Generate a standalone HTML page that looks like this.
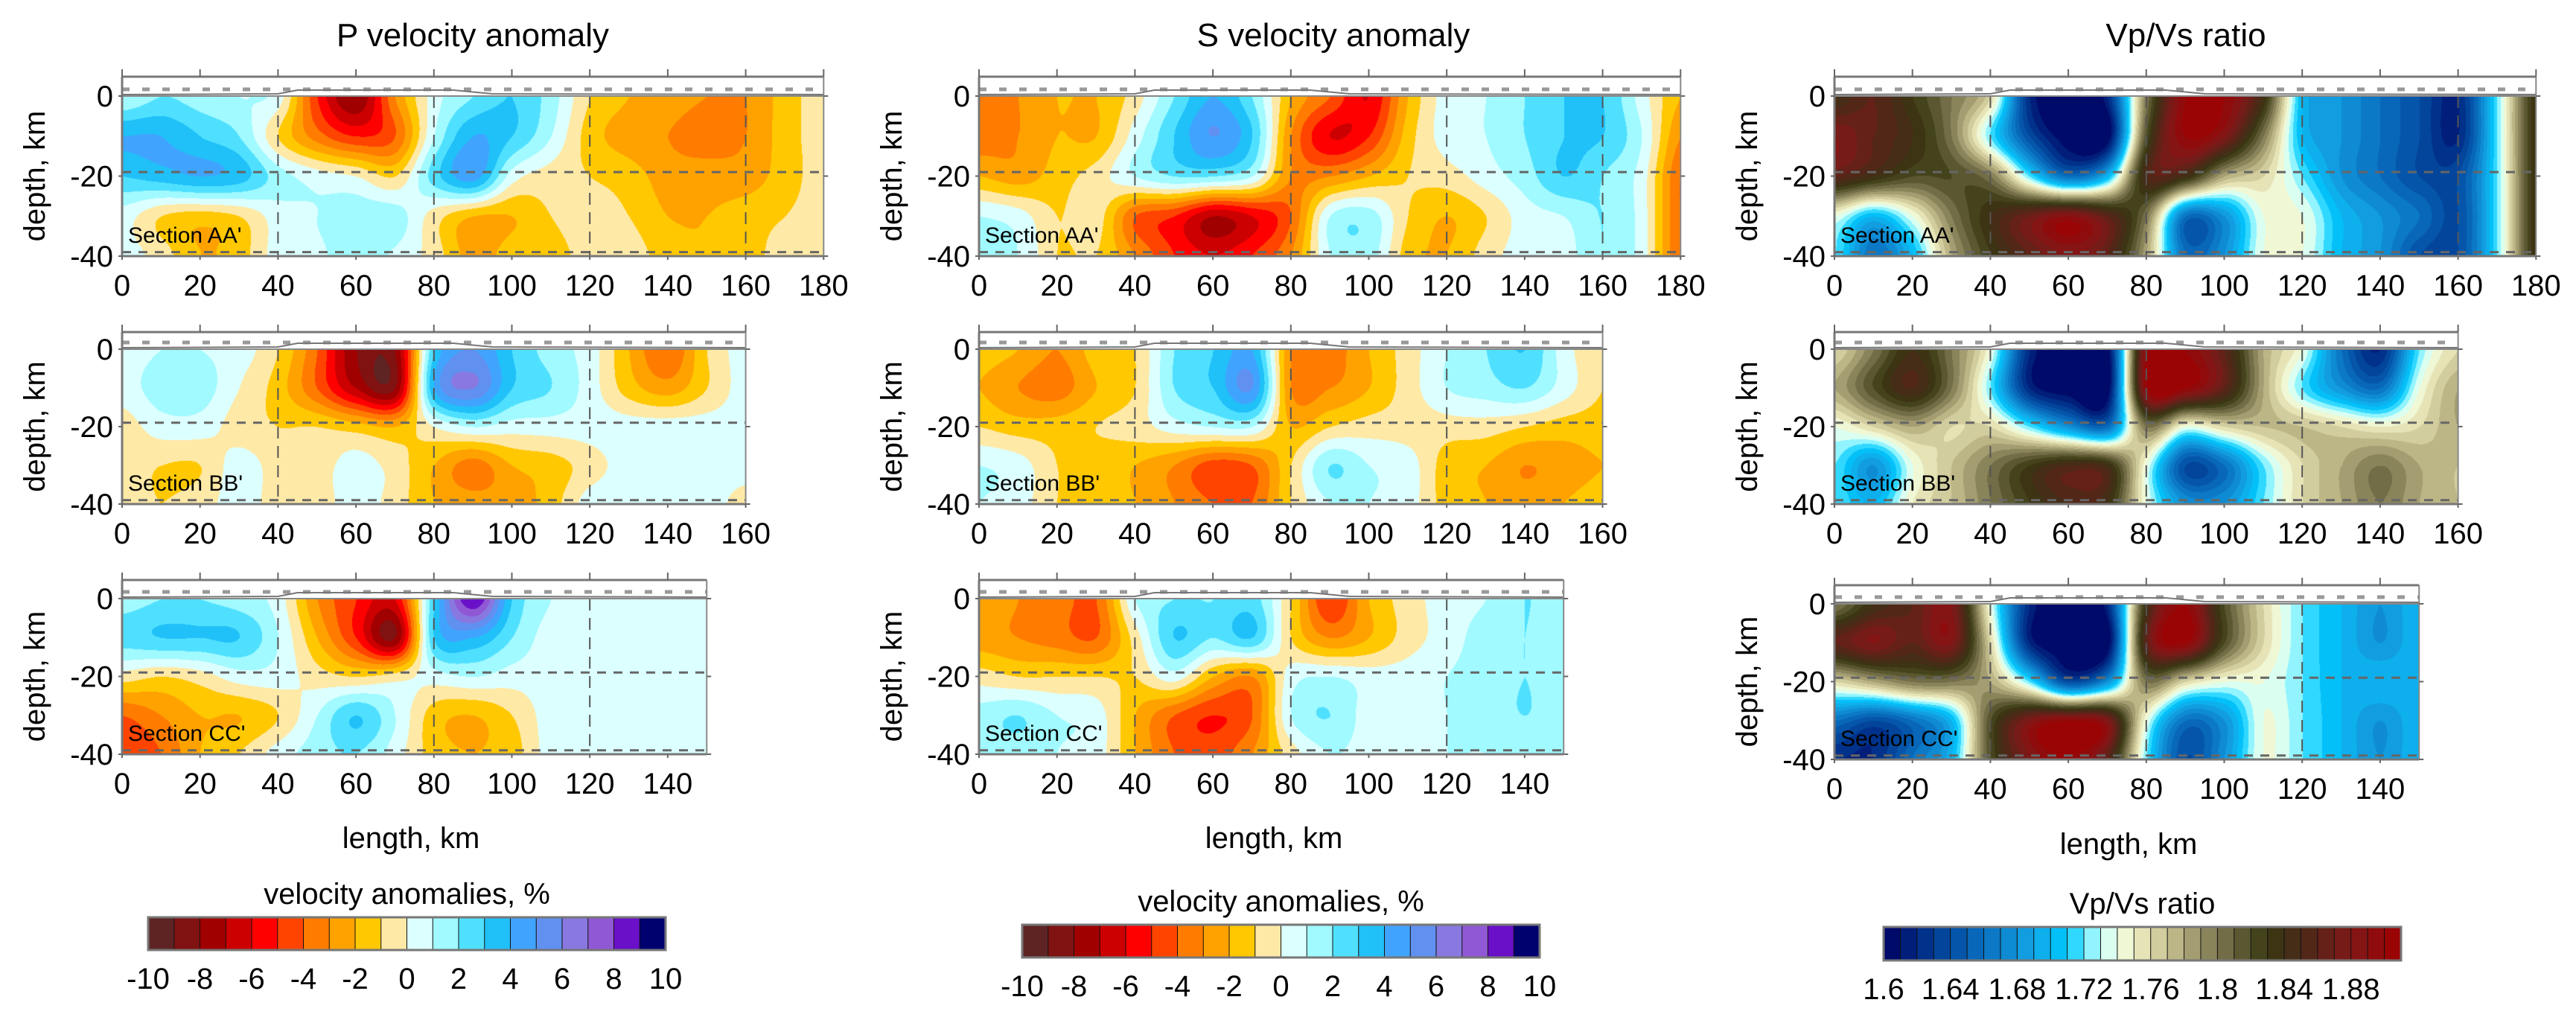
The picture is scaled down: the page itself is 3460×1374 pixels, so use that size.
<!DOCTYPE html>
<html><head><meta charset="utf-8"><style>
html,body{margin:0;padding:0;background:#fff;}
#wrap{position:relative;width:3460px;height:1374px;overflow:hidden;}
canvas,svg{position:absolute;left:0;top:0;}
text{font-family:"Liberation Sans",sans-serif;fill:#000;}
</style></head><body>
<div id="wrap">
<canvas id="cv" width="3460" height="1374"></canvas>
<svg id="sv" width="3460" height="1374" xmlns="http://www.w3.org/2000/svg"></svg>
</div>
<script>
// ---------- data ----------
const depthRows = [0, 10, 20, 30, 40];
const xTicksAA = [0,20,40,60,80,100,120,140,160,180];
const xTicksBB = [0,20,40,60,80,100,120,140,160];
const xTicksCC = [0,20,40,60,80,100,120,140];
const yTicks = [0,-20,-40];
const velTickLabels = [-10,-8,-6,-4,-2,0,2,4,6,8,10];
const vpvsTickLabels = [1.6,1.64,1.68,1.72,1.76,1.8,1.84,1.88];
const velColors = ["#5e2424","#801212","#a00000","#cc0000","#ff0000","#ff4400","#ff7c00","#ffa200","#ffc800","#ffe9a6",
                   "#dcffff","#a0faff","#50e0ff","#20c0f8","#40a4ff","#6090f0","#8878e0","#9058d4","#6a10c8","#00006e"];
const vpvsStops = [[1.60,"#000060"],[1.63,"#003c94"],[1.66,"#0a70c0"],[1.69,"#12a6e6"],[1.71,"#00c8ff"],[1.72,"#60e8ff"],
                   [1.73,"#c4ffff"],[1.74,"#f0ffe4"],[1.75,"#f0f0c4"],[1.77,"#c8c292"],[1.80,"#7e7850"],[1.83,"#383812"],
                   [1.85,"#4a2a18"],[1.88,"#801818"],[1.91,"#a00000"]];

const pAA = [
 [1,2,1.5,1,0.5,-5,-8,-3,0.5,2,3,1.5,-1,-2,-2.5,-3,-3,-1.5,-0.5],
 [4,4,3,2,-1,-3.5,-5,-4,1,4,3,1,-1.5,-2.5,-3,-3.5,-3,-1.5,-0.5],
 [3,3.5,4,3.5,1.5,0.5,0,-1,2.5,4.5,0.5,-0.5,-1,-1.5,-2.5,-2.5,-2.5,-1.5,-0.5],
 [0.5,-1,-1.5,-1,0.5,1,1.5,1.5,-0.5,-2,-2,-1,-0.5,-1,-2,-2,-1.5,-1,-0.5],
 [0.5,-0.5,-2,-1.5,0.5,0.8,1.5,0.8,-0.5,-2.5,-1.5,-1.5,-0.5,-0.5,-1.5,-2,-1.5,-0.5,-0.5]];
const pBB = [
 [0.5,1,1,0.5,-1,-4,-8,-8,3,5,3,1.5,0.5,-2,-4,-1,0.5],
 [0.5,1.5,1.5,0,-1.5,-4,-7,-8,4,6,3,2,0.5,-1.5,-2.5,-1,0.5],
 [-0.5,0.5,0.5,-0.5,-1,-1,-1.5,-2,0,1,0.5,0.5,0.5,0.5,0.5,0.5,0.5],
 [-0.5,-1,-1,0.5,-0.5,-0.5,0.5,-0.5,-2,-3.5,-2,-1.5,-0.5,0.5,0.5,0.5,0.5],
 [-0.5,-1,-0.5,0.5,-0.5,-0.5,0.5,-0.5,-2,-2.5,-2.5,-1.5,0.5,0.5,0.5,0.5,-0.5]];
const pCC = [
 [1.5,2,2,1.5,0.5,-3,-5,-6,3,9,3,1,0.5,0.5,0.5,0.5],
 [2.5,3,3,3,1,-2,-5,-8,3,4,2,0.5,0.5,0.5,0.5,0.5],
 [-0.5,-1,-0.5,0.5,0.5,-0.5,-1,-0.5,0.5,1,0.5,0.5,0.5,0.5,0.5,0.5],
 [-4,-3,-2,-2,-1,1,3,1,-1.5,-2,-1,0.5,0.5,0.5,0.5,0.5],
 [-5,-4,-2,-1,0.5,1.5,2,0.5,-1.5,-2,-1.5,0.5,0.5,0.5,0.5,0.5]];
const sAA = [
 [-3,-3,-2,-2,-0.5,2,4,2,-2,-4,-6,-2,0.5,1,2,3,3,0.5,-2],
 [-3.5,-3,-2,-2,0.5,3,5,3,-3,-6,-5,-1.5,0.5,1,2,3,3,1,-3],
 [-2,-2.5,-1.5,-0.5,1,2,2,1,-3,-3,-2,-1,-0.5,0.5,1.5,3,2,0.5,-4],
 [1,0.5,-1,-0.5,-4,-5,-7,-6,-4,1,1.5,-1,-2,-1,0.5,1,2,0.5,-4],
 [1,1,-1,-1,-3,-5,-6,-5,-3,1,1.5,-1.5,-2,-0.5,0.5,0.5,2,0.5,-4]];
const sBB = [
 [-1.5,-2,-3,-1.5,-1,2,3,4,-3,-3.5,-2,-0.5,1,2,3,0.5,-1],
 [-2,-3,-3.5,-2,-1,2,3,5,-3,-3,-2,-0.5,1,1.5,2,0.5,-1],
 [-1,-1.5,-1.5,-1,-0.5,0.5,1,1,-2,-1,-0.5,-0.5,-0.5,-0.5,-1,-1.5,-1.5],
 [1,0.5,-1,-1.5,-2,-3,-4.5,-4,-1,2,1,0.5,-1.5,-2,-3,-2.5,-2],
 [1,0.5,-1,-1.5,-2,-3,-4,-4,-1,1,1,0.5,-1.5,-2,-2.5,-2,-1.5]];
const sCC = [
 [-2,-3,-3.5,-4,1,2,2,2.5,-1,-5,-2,-0.5,0.5,1,2,1.5],
 [-2.5,-3,-3.5,-4,-0.5,3,2,3,-1,-3,-2,-0.5,0.5,1.5,2,1.5],
 [-0.5,-1,-1,-1,-1,0.5,-2,-3,0.5,1,0.5,0.5,1,1.5,2,1.5],
 [1.5,2,1,0.5,-2,-4,-5,-4,1,2,0.5,0.5,1,1.5,2,1.5],
 [1.5,1.5,1,0.5,-2,-4,-4.5,-3,-0.5,1,0.5,0.5,1,1,1.5,1.5]];
const vAA = [
 [1.84,1.86,1.83,1.80,1.76,1.62,1.60,1.62,1.80,1.90,1.90,1.84,1.70,1.68,1.66,1.64,1.62,1.72,1.84],
 [1.88,1.86,1.84,1.80,1.72,1.64,1.60,1.60,1.82,1.90,1.88,1.80,1.70,1.68,1.66,1.64,1.62,1.72,1.84],
 [1.86,1.84,1.82,1.82,1.80,1.72,1.66,1.70,1.85,1.84,1.78,1.76,1.72,1.68,1.66,1.64,1.64,1.72,1.84],
 [1.74,1.70,1.74,1.80,1.84,1.87,1.89,1.86,1.80,1.66,1.68,1.74,1.74,1.70,1.68,1.66,1.64,1.72,1.84],
 [1.72,1.66,1.70,1.78,1.83,1.86,1.88,1.86,1.78,1.66,1.68,1.74,1.74,1.70,1.68,1.64,1.64,1.72,1.84]];
const vBB = [
 [1.76,1.80,1.84,1.80,1.74,1.62,1.60,1.60,1.90,1.90,1.86,1.78,1.74,1.66,1.62,1.72,1.76],
 [1.78,1.82,1.85,1.80,1.72,1.62,1.60,1.60,1.90,1.90,1.86,1.78,1.72,1.68,1.66,1.74,1.78],
 [1.74,1.76,1.78,1.76,1.76,1.72,1.68,1.66,1.80,1.74,1.76,1.77,1.77,1.76,1.75,1.76,1.78],
 [1.72,1.68,1.74,1.77,1.80,1.83,1.85,1.84,1.74,1.64,1.66,1.72,1.76,1.78,1.80,1.78,1.77],
 [1.72,1.70,1.75,1.77,1.80,1.83,1.85,1.84,1.74,1.68,1.68,1.72,1.76,1.78,1.80,1.78,1.77]];
const vCC = [
 [1.80,1.84,1.86,1.88,1.74,1.62,1.60,1.62,1.84,1.90,1.82,1.76,1.72,1.70,1.68,1.70],
 [1.86,1.88,1.86,1.88,1.76,1.62,1.60,1.60,1.86,1.90,1.82,1.76,1.72,1.70,1.68,1.70],
 [1.76,1.78,1.80,1.80,1.78,1.72,1.64,1.68,1.80,1.76,1.74,1.74,1.72,1.70,1.70,1.70],
 [1.66,1.64,1.66,1.70,1.82,1.88,1.90,1.88,1.74,1.66,1.68,1.74,1.72,1.70,1.68,1.70],
 [1.62,1.62,1.66,1.70,1.82,1.88,1.90,1.86,1.72,1.64,1.68,1.74,1.72,1.70,1.68,1.70]];

// ---------- layout ----------
const colX = [164, 1315, 2464];
const pxPerKm = 5.235;
const rowsGeom = [
  {y0:129, y40:344, top:103}, {y0:469, y40:677, top:446}, {y0:804, y40:1013, top:779}];
const panels = [
 {c:0,r:0,data:pAA,len:180,ticks:xTicksAA,type:'v',sec:"Section AA'"},
 {c:0,r:1,data:pBB,len:160,ticks:xTicksBB,type:'v',sec:"Section BB'"},
 {c:0,r:2,data:pCC,len:150,ticks:xTicksCC,type:'v',sec:"Section CC'"},
 {c:1,r:0,data:sAA,len:180,ticks:xTicksAA,type:'v',sec:"Section AA'"},
 {c:1,r:1,data:sBB,len:160,ticks:xTicksBB,type:'v',sec:"Section BB'"},
 {c:1,r:2,data:sCC,len:150,ticks:xTicksCC,type:'v',sec:"Section CC'"},
 {c:2,r:0,data:vAA,len:180,ticks:xTicksAA,type:'r',sec:"Section AA'"},
 {c:2,r:1,data:vBB,len:160,ticks:xTicksBB,type:'r',sec:"Section BB'"},
 {c:2,r:2,data:vCC,len:150,ticks:xTicksCC,type:'r',sec:"Section CC'",dy:7}];

function hex(h){return [parseInt(h.substr(1,2),16),parseInt(h.substr(3,2),16),parseInt(h.substr(5,2),16)];}
const vpvsColors = [];
for(let i=0;i<31;i++){
  const v=1.6+(i+0.5)*0.01; let k=0;
  while(k<vpvsStops.length-2 && v>vpvsStops[k+1][0]) k++;
  const a=vpvsStops[k],b=vpvsStops[k+1]; const t=Math.max(0,Math.min(1,(v-a[0])/(b[0]-a[0])));
  const ca=hex(a[1]),cb=hex(b[1]);
  vpvsColors.push('#'+ca.map((q,j)=>Math.round(q+(cb[j]-q)*t).toString(16).padStart(2,'0')).join(''));
}
const velRGB = velColors.map(hex), vpvsRGB = vpvsColors.map(hex);

function cr(p0,p1,p2,p3,t){return p1+0.5*t*(p2-p0+t*(2*p0-5*p1+4*p2-p3+t*(3*(p1-p2)+p3-p0)));}
function sample(g,xk,dk){
  const nx=g[0].length, ny=g.length;
  const fx=xk/10, fy=dk/10;
  const ix=Math.floor(fx), iy=Math.floor(fy), tx=fx-ix, ty=fy-iy;
  const G=(r,c)=>g[Math.max(0,Math.min(ny-1,r))][Math.max(0,Math.min(nx-1,c))];
  const rowv=[];
  for(let j=-1;j<=2;j++) rowv.push(cr(G(iy+j,ix-1),G(iy+j,ix),G(iy+j,ix+1),G(iy+j,ix+2),tx));
  return cr(rowv[0],rowv[1],rowv[2],rowv[3],ty);
}

// ---------- fields ----------
const ctx=document.getElementById('cv').getContext('2d');
const img=ctx.createImageData(3460,1374);
img.data.fill(255);
panels.forEach(p=>{
  const g=rowsGeom[p.r], dy=p.dy||0, x0=colX[p.c];
  const ya=g.y0+dy, yb=g.y40+dy, x1=Math.round(x0+p.len*pxPerKm);
  for(let y=ya;y<yb;y++){
    const dk=(y-ya)/(yb-ya)*40;
    for(let x=x0;x<x1;x++){
      const xk=(x-x0)/pxPerKm;
      const v=sample(p.data,xk,dk);
      let col;
      if(p.type==='v'){let i=Math.floor(v+10);i=Math.max(0,Math.min(19,i));col=velRGB[i];}
      else{let i=Math.floor((v-1.6)/0.01);i=Math.max(0,Math.min(30,i));col=vpvsRGB[i];}
      const o=(y*3460+x)*4; img.data[o]=col[0];img.data[o+1]=col[1];img.data[o+2]=col[2];
    }
  }
});
ctx.putImageData(img,0,0);

// ---------- overlay ----------
const NS="http://www.w3.org/2000/svg", sv=document.getElementById('sv');
function mk(tag,attrs,parent){const e=document.createElementNS(NS,tag);for(const k in attrs)e.setAttribute(k,attrs[k]);(parent||sv).appendChild(e);return e;}
function txt(s,x,y,size,anchor,parent){const t=mk('text',{x:x,y:y,'font-size':size,'text-anchor':anchor||'middle'},parent);t.textContent=s;return t;}

const titles=[["P velocity anomaly",635],["S velocity anomaly",1791],["Vp/Vs ratio",2936]];
titles.forEach((t,i)=>{const e=txt(t[0],t[1],62,44);
  
  });

panels.forEach((p,pi)=>{
  const g=rowsGeom[p.r], dy=p.dy||0, x0=colX[p.c];
  const ya=g.y0+dy, yb=g.y40+dy, top=g.top+dy, x1=x0+p.len*pxPerKm;
  const X=k=>x0+k*pxPerKm, Y=d=>ya+(-d)/40*(yb-ya);
  const gp=mk('g',{});
  
  
  mk('line',{x1:x0,x2:x1,y1:ya-9,y2:ya-9,stroke:'#999','stroke-width':5,'stroke-dasharray':'10 17'},gp);
  mk('polyline',{points:`${x0},${ya-2} ${X(40)},${ya-3} ${X(45)},${ya-8} ${X(85)},${ya-8} ${X(95)},${ya-3} ${x1},${ya-2}`,fill:'none',stroke:'#777','stroke-width':2},gp);
  [19,39].forEach(d=>mk('line',{x1:x0,x2:x1,y1:Y(-d),y2:Y(-d),stroke:'#666','stroke-width':3,'stroke-dasharray':'12 10'},gp));
  [40,80,120,160].filter(k=>k<p.len).forEach(k=>mk('line',{x1:X(k),x2:X(k),y1:ya,y2:yb,stroke:'#555','stroke-width':2,'stroke-dasharray':'16 10'},gp));
  mk('line',{x1:x0,x2:x1,y1:top,y2:top,stroke:'#777','stroke-width':3},gp);
  mk('line',{x1:x0,x2:x1,y1:ya,y2:ya,stroke:'#888','stroke-width':2},gp);
  mk('line',{x1:x0,x2:x1,y1:yb,y2:yb,stroke:'#777','stroke-width':3},gp);
  mk('line',{x1:x0,x2:x0,y1:top,y2:yb,stroke:'#777','stroke-width':3},gp);
  mk('line',{x1:x1,x2:x1,y1:top,y2:yb,stroke:'#888','stroke-width':2},gp);
  p.ticks.forEach(k=>{
    mk('line',{x1:X(k),x2:X(k),y1:top-10,y2:top,stroke:'#666','stroke-width':2},gp);
    mk('line',{x1:X(k),x2:X(k),y1:yb,y2:yb+5,stroke:'#666','stroke-width':2},gp);
    const t=txt(String(k),X(k),yb+53,40,'middle',gp);
    
    
  });
  yTicks.forEach(d=>{
    mk('line',{x1:x0-5,x2:x0,y1:Y(d),y2:Y(d),stroke:'#666','stroke-width':2},gp);
    mk('line',{x1:x1,x2:x1+6,y1:Y(d),y2:Y(d),stroke:'#666','stroke-width':2},gp);
    const t=txt(String(d),x0-12,Y(d)+14,40,'end',gp);
    
    
  });
  const yl=txt("depth, km",0,0,40,'middle',gp);
  yl.setAttribute('transform',`translate(${x0-104},${(ya+yb)/2}) rotate(-90)`);
  
  
  const sl=txt(p.sec,x0+8,yb-18,30,'start',gp);
  
  
});

[[552,1125],[1711,1125],[2859,1133]].forEach(a=>{const t=txt("length, km",a[0],a[1]+14,40);
  
  });

// ---------- colorbars ----------
function colorbar(x,y,w,h,colors,labels,lo,hi,title,ly,ty,name){
  const gb=mk('g',{});
  
  
  const n=colors.length, sw=w/n;
  colors.forEach((c,i)=>mk('rect',{x:x+i*sw,y:y,width:sw+0.5,height:h,fill:c,stroke:'#111','stroke-width':1},gb));
  mk('rect',{x:x,y:y,width:w,height:h,fill:'none',stroke:'#777','stroke-width':3},gb);
  labels.forEach(v=>txt(String(v),x+(v-lo)/(hi-lo)*w,ly+15,40,'middle',gb));
  txt(title,x+w/2,ty+14,40,'middle',gb);
}
colorbar(199,1232,695,44,velColors,velTickLabels,-10,10,"velocity anomalies, %",1313,1200,'colorbar-p');
colorbar(1373,1242,695,44,velColors,velTickLabels,-10,10,"velocity anomalies, %",1323,1210,'colorbar-s');
colorbar(2530,1245,695,45,vpvsColors,vpvsTickLabels,1.6,1.91,"Vp/Vs ratio",1327,1213,'colorbar-vpvs');
</script>
</body></html>
